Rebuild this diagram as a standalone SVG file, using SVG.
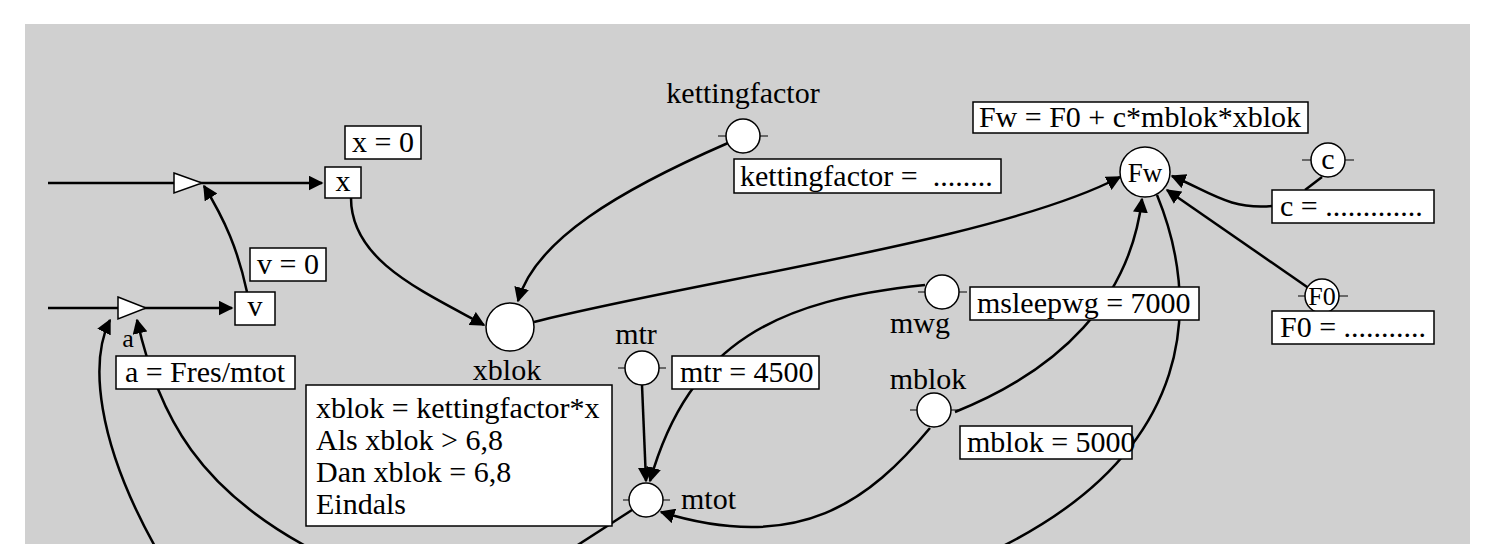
<svg xmlns="http://www.w3.org/2000/svg" width="1495" height="544" viewBox="0 0 1495 544">
<style>
text{font-family:"Liberation Serif","Times New Roman",serif;font-size:30px;fill:#000}
.b{fill:#fff;stroke:#000;stroke-width:1.5}
.c{fill:#fff;stroke:#000;stroke-width:1.5}
.t{stroke:#000;stroke-width:1}
.e{fill:none;stroke:#000;stroke-width:2.5}
.m{text-anchor:middle}
</style>
<defs>
<marker id="a" viewBox="0 0 10 10" refX="9" refY="5" markerWidth="6" markerHeight="6" orient="auto" markerUnits="strokeWidth"><path d="M0,0L10,5L0,10z" fill="#000"/></marker>
</defs>
<rect width="1495" height="544" fill="#fff"/>
<rect x="25" y="24" width="1445" height="530" fill="#d0d0d0"/>
<g id="connectors">
<path class="e" d="M48,183H322" marker-end="url(#a)"/>
<path class="e" d="M48,308H232" marker-end="url(#a)"/>
<path class="e" d="M247,292C238,250 225,220 204,186" marker-end="url(#a)"/>
<path class="e" d="M351,198C351,260 420,290 484,325" marker-end="url(#a)"/>
<path class="e" d="M728,143C620,190 535,240 518,301" marker-end="url(#a)"/>
<path class="e" d="M534,322C700,280 1000,240 1120,177" marker-end="url(#a)"/>
<path class="e" d="M1157,195C1200,300 1200,450 995,550"/>
<path class="e" d="M157,550C95,440 90,360 110,320" marker-end="url(#a)"/>
<path class="e" d="M313,550C200,490 160,420 137,320" marker-end="url(#a)"/>
<path class="e" d="M632,510L570,550"/>
<path class="e" d="M642,385L646,481" marker-end="url(#a)"/>
<path class="e" d="M925,285C780,300 690,340 650,481" marker-end="url(#a)"/>
<path class="e" d="M930,428C870,500 800,555 661,512" marker-end="url(#a)"/>
<path class="e" d="M955,412C1060,370 1130,300 1142,199" marker-end="url(#a)"/>
<path class="e" d="M1272,206C1230,210 1210,192 1172,176" marker-end="url(#a)"/>
<path class="e" d="M1310,289L1167,190" marker-end="url(#a)"/>
<path class="e" d="M1322,177L1305,190"/>
</g>
<g id="valve-x"><path class="b" d="M174,173L202,183L174,193z"/></g>
<g id="valve-v"><path class="b" d="M118,297L146,308L118,319z"/><text x="128" y="347" class="m" style="font-size:26px">a</text></g>
<g id="x"><rect class="b" x="325" y="167" width="36" height="31"/><text x="343" y="191" class="m">x</text></g>
<g id="x0"><rect class="b" x="345" y="126" width="76" height="33"/><text x="383" y="152" class="m">x = 0</text></g>
<g id="v"><rect class="b" x="235" y="292" width="40" height="33"/><text x="255" y="316" class="m">v</text></g>
<g id="v0"><rect class="b" x="250" y="248" width="76" height="33"/><text x="288" y="274" class="m">v = 0</text></g>
<g id="aeq"><rect class="b" x="116" y="356" width="179" height="33"/><text x="205" y="382" class="m">a = Fres/mtot</text></g>
<g id="xblok"><circle class="c" cx="510" cy="327" r="24"/><text x="507" y="380" class="m">xblok</text></g>
<g id="xblokeq"><rect class="b" x="306" y="385" width="306" height="141"/><text x="316" y="418">xblok = kettingfactor*x</text><text x="316" y="450">Als xblok &gt; 6,8</text><text x="316" y="482">Dan xblok = 6,8</text><text x="316" y="514">Eindals</text></g>
<g id="kettingfactor"><line class="t" x1="718" y1="136" x2="768" y2="136"/><circle class="c" cx="743" cy="136" r="17"/><text x="743" y="103" class="m">kettingfactor</text></g>
<g id="kfeq"><rect class="b" x="734" y="159" width="267" height="34"/><text x="740" y="186" xml:space="preserve">kettingfactor =  ........</text></g>
<g id="Fweq"><rect class="b" x="973" y="102" width="335" height="31"/><text x="1140" y="127" class="m">Fw = F0 + c*mblok*xblok</text></g>
<g id="Fw"><circle class="c" cx="1145" cy="172" r="25"/><text x="1145" y="182" class="m" style="font-size:27px">Fw</text></g>
<g id="c"><line class="t" x1="1302" y1="160" x2="1354" y2="160"/><circle class="c" cx="1328" cy="160" r="17"/><text x="1328" y="169" class="m">c</text></g>
<g id="ceq"><rect class="b" x="1272" y="190" width="162" height="33"/><text x="1280" y="216">c = .............</text></g>
<g id="F0"><line class="t" x1="1298" y1="296" x2="1348" y2="296"/><circle class="c" cx="1322" cy="296" r="17"/><text x="1322" y="305" class="m" style="font-size:26px">F0</text></g>
<g id="F0eq"><rect class="b" x="1272" y="311" width="162" height="33"/><text x="1280" y="337">F0 = ...........</text></g>
<g id="mwg"><line class="t" x1="918" y1="292" x2="967" y2="292"/><circle class="c" cx="942" cy="292" r="17"/><text x="920" y="333" class="m">mwg</text></g>
<g id="mwgeq"><rect class="b" x="970" y="287" width="229" height="33"/><text x="977" y="313">msleepwg = 7000</text></g>
<g id="mtr"><line class="t" x1="618" y1="368" x2="666" y2="368"/><circle class="c" cx="642" cy="368" r="17"/><text x="636" y="344" class="m">mtr</text></g>
<g id="mtreq"><rect class="b" x="672" y="356" width="147" height="33"/><text x="680" y="382">mtr = 4500</text></g>
<g id="mblok"><line class="t" x1="910" y1="410" x2="958" y2="410"/><circle class="c" cx="934" cy="410" r="17"/><text x="928" y="389" class="m">mblok</text></g>
<g id="mblokeq"><rect class="b" x="960" y="426" width="172" height="33"/><text x="967" y="452">mblok = 5000</text></g>
<g id="mtot"><line class="t" x1="623" y1="500" x2="670" y2="500"/><circle class="c" cx="646" cy="500" r="17"/><text x="681" y="509">mtot</text></g>
</svg>
